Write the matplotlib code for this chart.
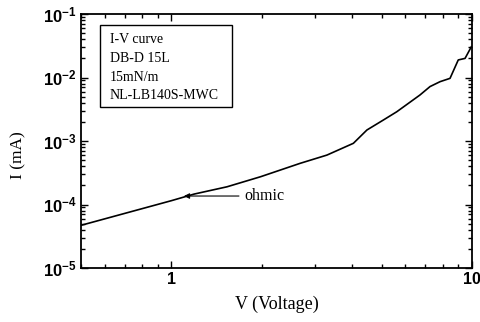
import matplotlib
matplotlib.use("Agg")
import matplotlib.pyplot as plt
from matplotlib.patches import Rectangle
from matplotlib.ticker import LogLocator, NullFormatter, FixedLocator, FixedFormatter

# I-V curve
voltage = [0.5, 1.0, 1.19, 1.53, 1.98, 2.68, 3.29, 4.03, 4.47, 5.07, 5.62, 6.71, 7.25, 7.83, 8.45, 9.0, 9.48, 9.95]
current = [4.7e-5, 1.15e-4, 1.46e-4, 1.9e-4, 2.74e-4, 4.45e-4, 6.0e-4, 9.2e-4, 1.49e-3, 2.14e-3, 2.89e-3, 5.3e-3, 7.2e-3, 8.6e-3, 9.7e-3, 1.89e-2, 2.0e-2, 3.05e-2]

legend_lines = ["I-V curve", "DB-D 15L", "15mN/m", "NL-LB140S-MWC"]
x_ticks = [1, 10]
x_ticklabels = ["1", "10"]
y_ticks = [1e-5, 1e-4, 1e-3, 1e-2, 1e-1]
y_ticklabels = [r"$\mathbf{10^{-5}}$", r"$\mathbf{10^{-4}}$", r"$\mathbf{10^{-3}}$",
                r"$\mathbf{10^{-2}}$", r"$\mathbf{10^{-1}}$"]

plt.rcParams["mathtext.fontset"] = "custom"
plt.rcParams["mathtext.bf"] = "Liberation Sans:bold"
plt.rcParams["mathtext.rm"] = "Liberation Sans:bold"

fig = plt.figure(figsize=(4.81, 3.22), dpi=100)
ax = fig.add_axes([0.1684, 0.1677, 0.8129, 0.7888])

ax.plot(voltage, current, color="black", lw=1.2)
ax.set_xscale("log")
ax.set_yscale("log")
ax.set_xlim(0.5, 10)
ax.set_ylim(1e-5, 1e-1)

ax.xaxis.set_major_locator(FixedLocator(x_ticks))
ax.xaxis.set_major_formatter(FixedFormatter(x_ticklabels))
ax.xaxis.set_minor_locator(LogLocator(base=10, subs=range(2, 10)))
ax.xaxis.set_minor_formatter(NullFormatter())
ax.yaxis.set_major_locator(FixedLocator(y_ticks))
ax.yaxis.set_major_formatter(FixedFormatter(y_ticklabels))
ax.yaxis.set_minor_locator(LogLocator(base=10, subs=range(2, 10)))
ax.yaxis.set_minor_formatter(NullFormatter())

ax.tick_params(which="both", direction="in", top=True, right=True, width=1.0)
ax.tick_params(which="major", length=5, labelsize=12, pad=3)
ax.tick_params(which="minor", length=3)
for lbl in ax.get_xticklabels():
    lbl.set_fontfamily("Liberation Sans")
    lbl.set_fontweight("bold")
    lbl.set_fontsize(11.5)
for sp in ax.spines.values():
    sp.set_linewidth(1.3)

ax.set_xlabel("V (Voltage)", family="Liberation Serif", fontsize=13, labelpad=6)
ax.set_ylabel("I (mA)", family="Liberation Serif", fontsize=12.5)
ax.yaxis.set_label_coords(-0.14, 0.445)

# legend box
ax.add_patch(Rectangle((0.0486, 0.634), 0.337, 0.323, transform=ax.transAxes,
                       fill=False, edgecolor="black", lw=1.0))
for i, line in enumerate(legend_lines):
    ax.text(0.074, 0.898 - i * 0.0735, line, transform=ax.transAxes,
            family="Liberation Serif", fontsize=10, va="center", ha="left")

ax.annotate("ohmic", xy=(1.10, 1.36e-4), xytext=(1.75, 1.36e-4),
            family="Liberation Serif", fontsize=11.5, va="center", ha="left",
            arrowprops=dict(arrowstyle="-|>", color="black", lw=0.8,
                            mutation_scale=8, shrinkA=2, shrinkB=0))

fig.savefig("out.png", dpi=100)
